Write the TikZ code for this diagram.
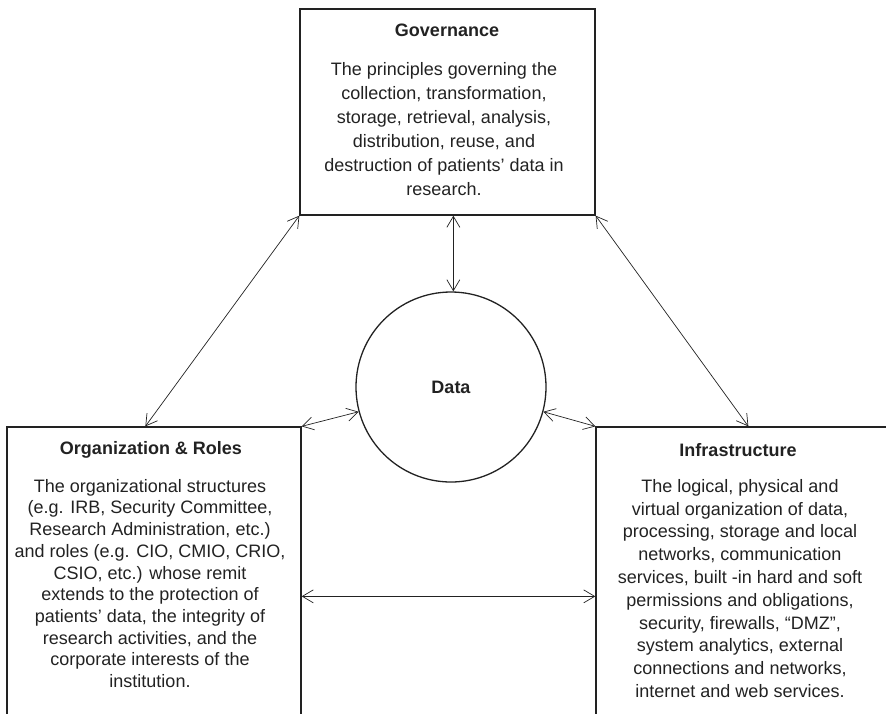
\documentclass[tikz,border=0pt]{standalone}
\usepackage{fontspec}
\setmainfont{Liberation Sans}
\usetikzlibrary{arrows.meta,calc}
\definecolor{ink}{HTML}{222222}
\begin{document}
\begin{tikzpicture}[x=1pt,y=-1pt,
  boxstyle/.style={draw=ink,line width=1.3pt,rectangle,inner sep=0pt},
  circstyle/.style={draw=ink,line width=1.3pt,circle,inner sep=0pt,minimum size=190pt},
  titlestyle/.style={inner sep=0pt,text=ink,font=\fontsize{18}{22}\bfseries\selectfont},
  bodystyle/.style={inner sep=0pt,text=ink,align=center,anchor=north},
  link/.style={draw=ink,line width=0.7pt,{Straight Barb[length=11pt,width=13pt]}-{Straight Barb[length=11pt,width=13pt]}}
]
\useasboundingbox (0,0) rectangle (886,713);
\clip (0,0) rectangle (886,713);
% boxes
\node[boxstyle,minimum width=295pt,minimum height=206pt] (gov) at (447.5,112) {};
\node[boxstyle,minimum width=294pt,minimum height=340pt] (org) at (154,597) {};
\node[boxstyle,minimum width=344pt,minimum height=340pt] (inf) at (768,597) {};
\node[circstyle] (data) at (451,387) {};
% texts
\node[titlestyle] (govt) at (447,30) {Governance};
\node[bodystyle,font=\fontsize{18}{24}\selectfont] (govb) at (444,62) {The principles governing the\\collection, transformation,\\storage, retrieval, analysis,\\distribution, reuse, and\\destruction of patients’ data in\\research.};
\node[titlestyle] (orgt) at (151,450) {Organization \& Roles};
\node[bodystyle,font=\fontsize{18}{21.7}\selectfont] (orgb) at (150,479) {The organizational structures\\(e.g. IRB, Security Committee,\\Research Administration, etc.)\\and roles (e.g. CIO, CMIO, CRIO,\\CSIO, etc.) whose remit\\extends to the protection of\\patients’ data, the integrity of\\research activities, and the\\corporate interests of the\\institution.};
\node[titlestyle] (inft) at (738,450) {Infrastructure};
\node[bodystyle,font=\fontsize{18}{22.8}\selectfont] (infb) at (740,479) {The logical, physical and\\virtual organization of data,\\processing, storage and local\\networks, communication\\services, built -in hard and soft\\permissions and obligations,\\security, firewalls, “DMZ”,\\system analytics, external\\connections and networks,\\internet and web services.};
\node[titlestyle] (datat) at (data.center) {Data};
% connectors
\coordinate (orgtop) at ($(org.north west)+(139,0)$);
\coordinate (inftop) at ($(inf.north west)+(153,0)$);
\coordinate (govmid) at ($(gov.south west)+(154,0)$);
\coordinate (orgmid) at ($(org.north east)+(0,170)$);
\coordinate (infmid) at ($(inf.north west)+(0,170)$);
\path[link] (gov.south west) -- (orgtop);
\path[link] (gov.south east) -- (inftop);
\path[link] (govmid) -- (govmid |- data.north);
\path[link] (org.north east) -- (data.195);
\path[link] (data.345) -- (inf.north west);
\path[link] (orgmid) -- (infmid);
\end{tikzpicture}
\end{document}
